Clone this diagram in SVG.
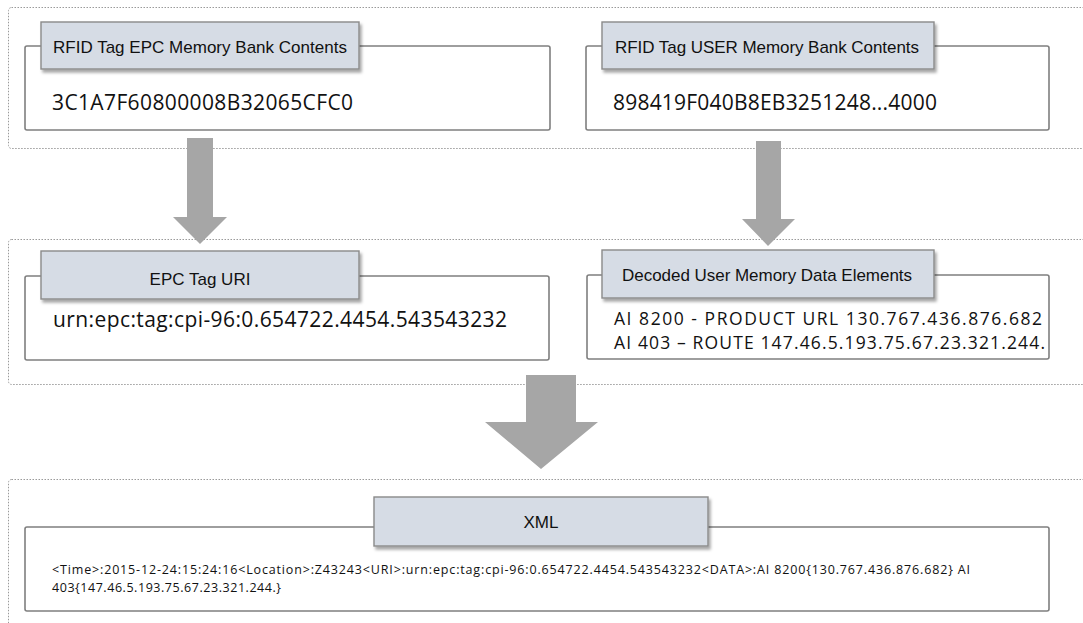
<svg xmlns="http://www.w3.org/2000/svg" width="1083" height="623" viewBox="0 0 1083 623">
<style>
.cont{fill:none;stroke:#9a9a9a;stroke-width:1;stroke-dasharray:1.5 1.5}
.box{fill:#ffffff;stroke:#7f7f7f;stroke-width:1.6}
.hdr{fill:#d6dce5;stroke:#8a8a8a;stroke-width:1.4;filter:url(#sh)}
.ht{font-family:"Liberation Sans",Arial,sans-serif;font-size:17px;fill:#111;text-anchor:middle}
.ct{font-family:"Open Sans","Noto Sans",sans-serif;font-size:21px;fill:#111}
.at{font-family:"Open Sans","Noto Sans",sans-serif;font-size:17.5px;fill:#111}
.xt{font-family:"Open Sans","Noto Sans",sans-serif;font-size:12.5px;fill:#111}
.arr{fill:#a6a6a6}
</style>
<defs>
<filter id="sh" x="-10%" y="-20%" width="130%" height="160%">
<feDropShadow dx="2" dy="3" stdDeviation="1.5" flood-color="#000" flood-opacity="0.35"/>
</filter>
</defs>
<g id="containers">
<rect class="cont" x="8.5" y="7.5" width="1090" height="141" rx="3"/>
<rect class="cont" x="8.5" y="239.5" width="1090" height="145" rx="3"/>
<rect class="cont" x="8.5" y="479.5" width="1090" height="160" rx="3"/>
</g>
<g id="node-epc-bank">
<rect class="box" x="25" y="46" width="525" height="84" rx="2"/>
<rect class="hdr" x="41" y="22" width="318" height="47"/>
<text class="ht" x="200" y="53" textLength="294">RFID Tag EPC Memory Bank Contents</text>
<text class="ct" x="52" y="110" textLength="301">3C1A7F60800008B32065CFC0</text>
</g>
<g id="node-user-bank">
<rect class="box" x="586" y="46" width="463" height="84" rx="2"/>
<rect class="hdr" x="602" y="22" width="332" height="47"/>
<text class="ht" x="767" y="53" textLength="304">RFID Tag USER Memory Bank Contents</text>
<text class="ct" x="613" y="110" textLength="324">898419F040B8EB3251248...4000</text>
</g>
<g id="node-epc-uri">
<rect class="box" x="25" y="276" width="524" height="84" rx="2"/>
<rect class="hdr" x="41" y="251" width="318" height="48"/>
<text class="ht" x="200" y="285">EPC Tag URI</text>
<text class="ct" x="53" y="327" textLength="454">urn:epc:tag:cpi-96:0.654722.4454.543543232</text>
</g>
<g id="node-decoded">
<rect class="box" x="587" y="275" width="462" height="84" rx="2"/>
<rect class="hdr" x="602" y="250" width="332" height="48"/>
<text class="ht" x="767" y="281" textLength="290">Decoded User Memory Data Elements</text>
<text class="at" x="614" y="325" textLength="428">AI 8200 - PRODUCT URL 130.767.436.876.682</text>
<text class="at" x="614" y="349" textLength="431">AI 403 – ROUTE 147.46.5.193.75.67.23.321.244.</text>
</g>
<g id="node-xml">
<rect class="box" x="25" y="527" width="1024" height="84" rx="2"/>
<rect class="hdr" x="374" y="497" width="334" height="49"/>
<text class="ht" x="541" y="528">XML</text>
<text class="xt" x="52" y="574" textLength="918">&lt;Time&gt;:2015-12-24:15:24:16&lt;Location&gt;:Z43243&lt;URI&gt;:urn:epc:tag:cpi-96:0.654722.4454.543543232&lt;DATA&gt;:AI 8200{130.767.436.876.682} AI</text>
<text class="xt" x="52" y="592" textLength="229">403{147.46.5.193.75.67.23.321.244.}</text>
</g>
<g id="connectors">
<polygon class="arr" points="187,138 213,138 213,217 227,217 200,244 173,217 187,217"/>
<polygon class="arr" points="756,141 781,141 781,219 795,219 768,246 742,219 756,219"/>
<polygon class="arr" points="526,375 576,375 576,422 598,422 541,469 485,422 526,422"/>
</g>
</svg>
